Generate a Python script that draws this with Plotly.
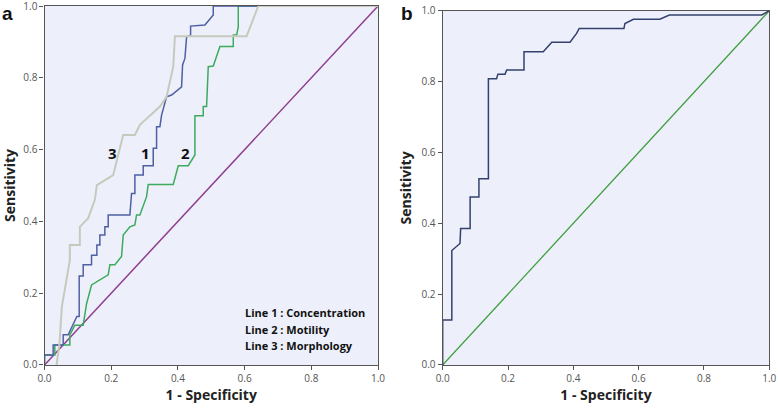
import plotly.graph_objects as go

# ---------------- Panel a data (ROC curves) ----------------
conc_fpr = [0.0, 0.0, 0.026, 0.026, 0.056, 0.056, 0.071, 0.097, 0.104, 0.104, 0.116, 0.116, 0.141, 0.141,
            0.157, 0.157, 0.166, 0.166, 0.181, 0.181, 0.191, 0.191, 0.256, 0.261, 0.261, 0.271, 0.271,
            0.296, 0.296, 0.321, 0.326, 0.326, 0.336, 0.336, 0.346, 0.351, 0.366, 0.381, 0.411, 0.414,
            0.421, 0.426, 0.438, 0.438, 0.481, 0.506, 0.506, 1.0]
conc_tpr = [0.0, 0.028, 0.028, 0.056, 0.056, 0.084, 0.084, 0.135, 0.135, 0.248, 0.248, 0.279, 0.279, 0.306,
            0.306, 0.334, 0.334, 0.362, 0.362, 0.385, 0.385, 0.418, 0.418, 0.46, 0.478, 0.478, 0.529,
            0.529, 0.555, 0.555, 0.555, 0.604, 0.604, 0.664, 0.664, 0.696, 0.747, 0.752, 0.775, 0.836,
            0.854, 0.914, 0.919, 0.944, 0.947, 0.975, 1.0, 1.0]

mot_fpr = [0.0, 0.0, 0.031, 0.031, 0.076, 0.076, 0.091, 0.116, 0.126, 0.141, 0.191, 0.196, 0.211, 0.231,
           0.236, 0.256, 0.271, 0.276, 0.286, 0.301, 0.306, 0.311, 0.386, 0.401, 0.431, 0.451, 0.451,
           0.476, 0.476, 0.486, 0.491, 0.506, 0.526, 0.566, 0.566, 0.576, 0.581, 0.581, 1.0]
mot_tpr = [0.0, 0.028, 0.028, 0.056, 0.056, 0.084, 0.111, 0.111, 0.17, 0.223, 0.251, 0.279, 0.279, 0.302,
           0.362, 0.385, 0.39, 0.418, 0.418, 0.46, 0.469, 0.503, 0.503, 0.555, 0.555, 0.585, 0.694,
           0.694, 0.72, 0.72, 0.831, 0.833, 0.887, 0.887, 0.919, 0.919, 0.942, 1.0, 1.0]

morph_fpr = [0.036, 0.045, 0.052, 0.061, 0.076, 0.076, 0.106, 0.106, 0.131, 0.151, 0.157, 0.206, 0.236,
             0.271, 0.286, 0.346, 0.366, 0.386, 0.391, 0.606, 0.641, 1.0]
morph_tpr = [0.0, 0.06, 0.162, 0.209, 0.292, 0.334, 0.334, 0.385, 0.409, 0.46, 0.501, 0.529, 0.641,
             0.641, 0.669, 0.72, 0.747, 0.831, 0.916, 0.916, 1.0, 1.0]

# ---------------- Panel b data ----------------
b_fpr = [0.0, 0.0, 0.028, 0.028, 0.053, 0.055, 0.084, 0.084, 0.111, 0.111, 0.14, 0.14, 0.165, 0.169,
         0.191, 0.196, 0.249, 0.249, 0.308, 0.334, 0.39, 0.41, 0.418, 0.555, 0.558, 0.584, 0.665,
         0.694, 0.977, 1.0]
b_tpr = [0.0, 0.127, 0.127, 0.323, 0.343, 0.385, 0.385, 0.474, 0.474, 0.526, 0.526, 0.808, 0.808, 0.821,
         0.821, 0.833, 0.833, 0.884, 0.884, 0.911, 0.911, 0.936, 0.95, 0.95, 0.964, 0.976, 0.976,
         0.988, 0.988, 1.0]

ref_line = [0.0, 1.0]
tick_vals = [0.0, 0.2, 0.4, 0.6, 0.8, 1.0]
tick_text = ["0.0", "0.2", "0.4", "0.6", "0.8", "1.0"]

legend_lines = ["Line 1 : Concentration", "Line 2 : Motility", "Line 3 : Morphology"]
curve_labels = ["3", "1", "2"]
curve_label_x = [0.203, 0.303, 0.423]

FONT = "Open Sans"

fig = go.Figure()

# Panel a
fig.add_trace(go.Scatter(x=ref_line, y=ref_line, mode="lines", line=dict(color="#8E3D8E", width=1.5),
                         xaxis="x", yaxis="y", hoverinfo="skip"))
fig.add_trace(go.Scatter(x=mot_fpr, y=mot_tpr, mode="lines", line=dict(color="#3DAA5E", width=1.5),
                         xaxis="x", yaxis="y"))
fig.add_trace(go.Scatter(x=conc_fpr, y=conc_tpr, mode="lines", line=dict(color="#4F5FA3", width=1.5),
                         xaxis="x", yaxis="y"))
fig.add_trace(go.Scatter(x=morph_fpr, y=morph_tpr, mode="lines", line=dict(color="#C8C9BE", width=2),
                         xaxis="x", yaxis="y"))

# Panel b
fig.add_trace(go.Scatter(x=ref_line, y=ref_line, mode="lines", line=dict(color="#3E9E3E", width=1.3),
                         xaxis="x2", yaxis="y2"))
fig.add_trace(go.Scatter(x=b_fpr, y=b_tpr, mode="lines", line=dict(color="#34416E", width=1.5),
                         xaxis="x2", yaxis="y2"))

axis_common = dict(range=[0, 1], tickvals=tick_vals, ticktext=tick_text, showgrid=False, zeroline=False,
                   showline=True, linecolor="#555555", linewidth=1.3, mirror=True,
                   ticks="outside", ticklen=4, tickcolor="#555555", automargin=False,
                   ticklabeloverflow="allow",
                   tickfont=dict(family=FONT, size=10, color="#555555"))

title_font = dict(family=FONT, size=14, color="#222")

fig.update_layout(
    width=778, height=409,
    margin=dict(l=0, r=0, t=0, b=0),
    paper_bgcolor="white",
    plot_bgcolor="#EDF0FA",
    showlegend=False,
    xaxis=dict(domain=[0.0572, 0.4859], anchor="y",
               title=dict(text="<b>1 - Specificity</b>", font=title_font, standoff=6),
               **axis_common),
    yaxis=dict(domain=[0.1076, 0.9853], anchor="x",
               title=dict(text="<b>Sensitivity</b>", font=title_font, standoff=6),
               **axis_common),
    xaxis2=dict(domain=[0.569, 0.9888], anchor="y2",
                title=dict(text="<b>1 - Specificity</b>", font=title_font, standoff=6),
                **axis_common),
    yaxis2=dict(domain=[0.1076, 0.9738], anchor="x2",
                title=dict(text="<b>Sensitivity</b>", font=title_font, standoff=6),
                **axis_common),
)

annotations = []
for lbl, lx in zip(curve_labels, curve_label_x):
    annotations.append(dict(x=lx, y=0.59, xref="x", yref="y", text=f"<b>{lbl}</b>", showarrow=False,
                            font=dict(family=FONT, size=15, color="#111")))
for i, t in enumerate(legend_lines):
    annotations.append(dict(x=0.595, y=0.145 - i * 0.046, xref="x", yref="y", xanchor="left", text=f"<b>{t}</b>",
                            showarrow=False, font=dict(family=FONT, size=11, color="#111")))
annotations.append(dict(x=0.0, y=1.0, xref="paper", yref="paper", xanchor="left", yanchor="top",
                        text="<b>a</b>", showarrow=False, font=dict(family="Liberation Sans", size=19, color="#111"),
                        yshift=-1))
annotations.append(dict(x=399 / 778, y=1.0, xref="paper", yref="paper", xanchor="left", yanchor="top",
                        text="<b>b</b>", showarrow=False, font=dict(family="Liberation Sans", size=19, color="#111"),
                        yshift=-1))
fig.update_layout(annotations=annotations)

fig.write_html("out.html", config={"displayModeBar": False},
               post_script="document.body.style.margin='0';document.body.style.overflow='hidden';")
